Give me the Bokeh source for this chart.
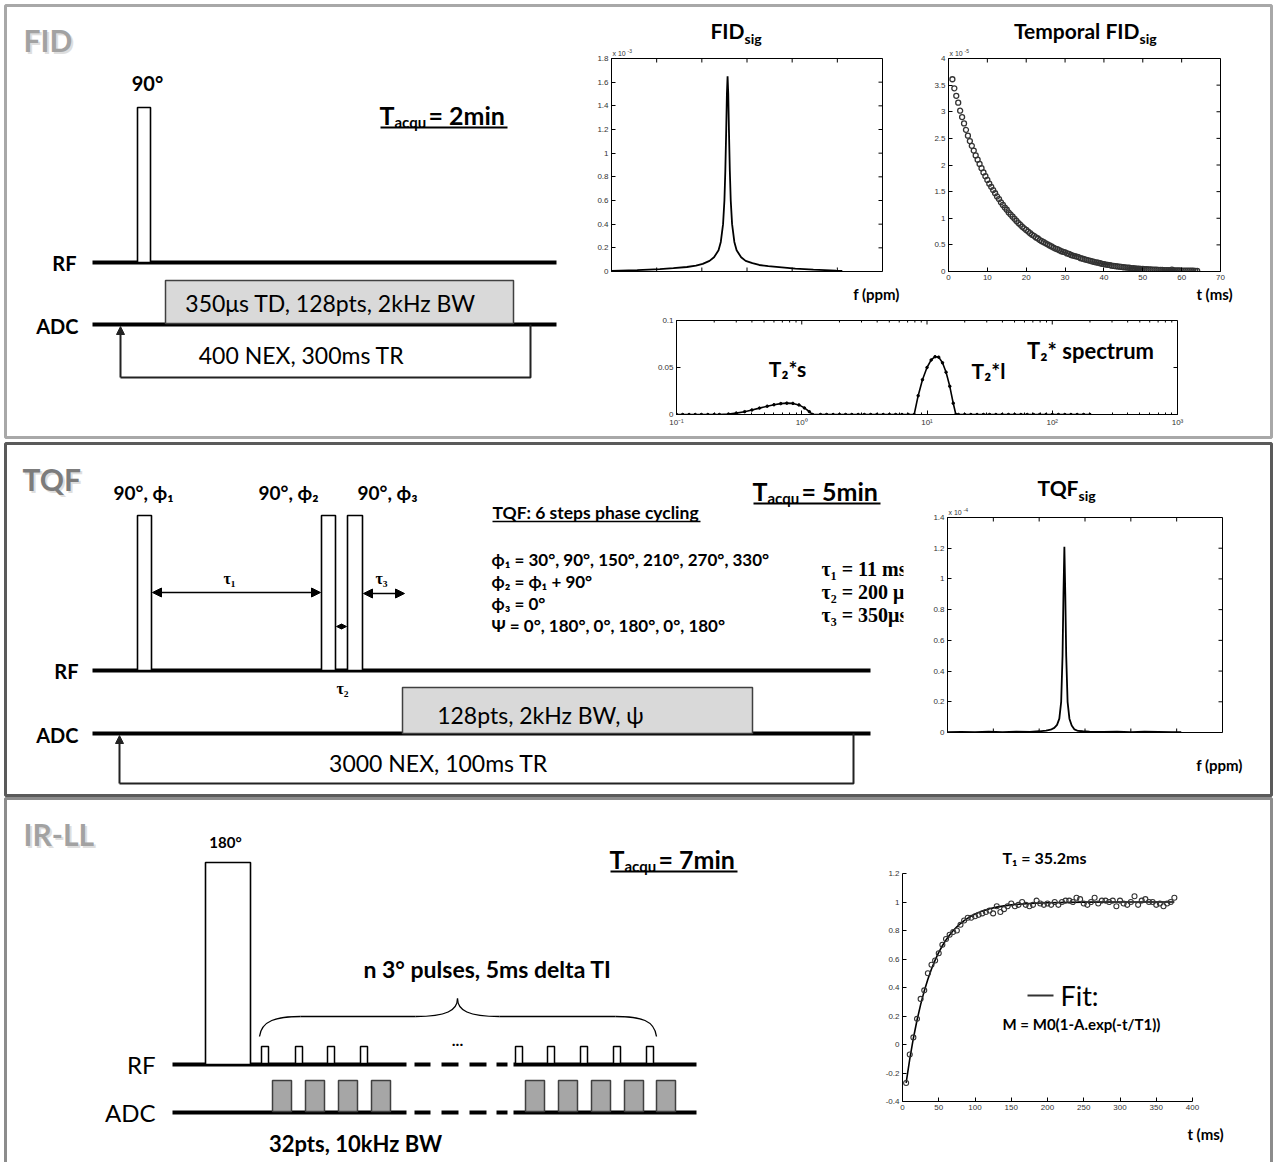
import math
from bokeh.plotting import figure
from bokeh.models import (Range1d, GridBox, FixedTicker, CustomJSTickFormatter, Arrow, NormalHead)
from bokeh.core.properties import value
from bokeh.embed import file_html
from bokeh.resources import INLINE

# ---------------------------------------------------------------- data
# FID spectrum (x in arbitrary ppm units, amplitude in 1e-3)
FID_F = [0, 5.7, 10.7, 13.7, 16.7, 18.7, 20.2, 21.7, 22.7, 23.7, 24.2, 24.7, 25.0, 25.2,
         25.4, 25.55, 25.7, 25.85, 26.0, 26.2, 26.4, 26.7, 27.2, 27.7, 28.7, 29.7, 31.2,
         32.7, 34.7, 37.7, 40.7, 44.7, 49.7, 51.1]
FID_AMP_E3 = [0.006, 0.012, 0.02, 0.028, 0.038, 0.05, 0.065, 0.09, 0.12, 0.18, 0.25, 0.4,
              0.6, 0.85, 1.2, 1.5, 1.65, 1.5, 1.2, 0.85, 0.6, 0.4, 0.25, 0.18, 0.12, 0.09,
              0.07, 0.055, 0.045, 0.035, 0.025, 0.016, 0.008, 0.006]

# temporal FID (t in ms, amplitude in 1e-5), dwell 0.5 ms
TEMP_T_MS = [1.0 + 0.5 * i for i in range(127)]
TEMP_AMP_E5 = [3.61, 3.44, 3.30, 3.17, 3.02, 2.90, 2.78, 2.66, 2.55, 2.45,
               2.36, 2.27, 2.18, 2.10, 2.02, 1.94, 1.86, 1.79, 1.72, 1.65,
               1.59, 1.53, 1.47, 1.41, 1.36, 1.30, 1.25, 1.20, 1.16, 1.11,
               1.07, 1.03, 0.99, 0.95, 0.91, 0.88, 0.84, 0.81, 0.78, 0.75,
               0.72, 0.69, 0.67, 0.64, 0.62, 0.59, 0.57, 0.55, 0.53, 0.51,
               0.49, 0.47, 0.45, 0.43, 0.42, 0.40, 0.38, 0.37, 0.36, 0.34,
               0.33, 0.31, 0.30, 0.29, 0.28, 0.27, 0.25, 0.24, 0.23, 0.22,
               0.21, 0.20, 0.19, 0.18, 0.17, 0.165, 0.155, 0.145, 0.14, 0.13,
               0.125, 0.12, 0.11, 0.105, 0.10, 0.095, 0.09, 0.085, 0.08, 0.078,
               0.072, 0.07, 0.065, 0.062, 0.058, 0.055, 0.052, 0.05, 0.047, 0.045,
               0.042, 0.04, 0.038, 0.036, 0.034, 0.033, 0.031, 0.03, 0.028, 0.027,
               0.026, 0.025, 0.023, 0.035, 0.022, 0.021, 0.02, 0.019, 0.018, 0.017,
               0.016, 0.016, 0.015, 0.014, 0.014, 0.013, 0.012]

# T2* spectrum
T2_TIME_MS = [0.1, 0.112, 0.126, 0.141, 0.158, 0.178, 0.2,
              0.22, 0.26, 0.30, 0.35, 0.40, 0.46, 0.53, 0.60, 0.68, 0.76, 0.85, 0.95, 1.05, 1.15, 1.22,
              1.41, 1.58, 1.78, 2.0, 2.24, 2.51, 2.82, 3.16, 3.55, 3.98, 4.47, 5.01, 5.62, 6.31, 7.08,
              7.9, 8.5, 9.2, 10.0, 10.8, 11.6, 12.4, 13.3, 14.2, 15.2, 16.2, 17.0,
              17.8, 20.0, 22.4, 25.1, 28.2, 31.6, 35.5, 39.8, 44.7, 50.1, 56.2, 63.1, 70.8, 79.4,
              89.1, 100, 112, 126, 141, 158, 178, 200]
T2_AMPLITUDE = [0, 0, 0, 0, 0, 0, 0,
                0, 0.0005, 0.0015, 0.003, 0.0048, 0.0068, 0.0088, 0.0104, 0.0116, 0.0121, 0.0118,
                0.0102, 0.007, 0.003, 0,
                0, 0, 0, 0, 0, 0, 0, 0, 0, 0, 0, 0, 0, 0, 0,
                0, 0.02, 0.037, 0.05, 0.058, 0.0615, 0.061, 0.055, 0.045, 0.03, 0.012, 0,
                0, 0, 0, 0, 0, 0, 0, 0, 0, 0, 0, 0, 0, 0, 0, 0, 0, 0, 0, 0, 0, 0]

# TQF spectrum (amplitude in 1e-4)
TQF_F = [0, 3, 6, 9, 12, 15, 18, 20, 21.5, 22.5, 23.3, 23.9, 24.4, 24.8, 25.1, 25.3, 25.5,
         25.7, 25.9, 26.2, 26.6, 27.1, 27.7, 28.5, 29.5, 31, 34, 37, 40, 43, 46, 49, 51]
TQF_AMP_E4 = [0.003, 0.004, 0.002, 0.006, 0.003, 0.005, 0.004, 0.008, 0.012, 0.018,
              0.03, 0.05, 0.09, 0.2, 0.5, 0.9, 1.21, 0.9, 0.5, 0.2,
              0.09, 0.045, 0.02, 0.01, 0.008, 0.006, 0.004, 0.006, 0.003, 0.005,
              0.004, 0.003, 0.002]

# IR-LL T1 recovery
T1_T_MS = list(range(5, 380, 5))
T1_M = [-0.27, -0.07, 0.05, 0.18, 0.32, 0.38, 0.50, 0.56, 0.59, 0.64,
        0.70, 0.74, 0.77, 0.79, 0.80, 0.84, 0.87, 0.89, 0.89, 0.90,
        0.91, 0.92, 0.93, 0.94, 0.92, 0.97, 0.93, 0.95, 0.97, 0.99,
        0.97, 0.98, 1.00, 0.98, 0.97, 0.98, 1.01, 0.99, 0.98, 0.99,
        0.98, 1.00, 0.98, 1.00, 1.01, 1.01, 1.00, 1.03, 1.02, 0.99,
        0.98, 1.00, 1.03, 0.99, 1.01, 1.01, 1.00, 1.01, 0.97, 1.01,
        0.99, 0.98, 1.00, 1.04, 0.98, 1.01, 1.02, 1.00, 1.00, 0.98,
        0.99, 0.97, 0.99, 1.00, 1.03]
T1_FIT_T = [5, 10, 15, 20, 25, 30, 35, 40, 45, 50, 55, 60, 65, 70, 75, 80, 85, 90, 95, 100,
            110, 120, 130, 140, 150, 175, 200, 250, 300, 375]
T1_FIT_M = [-0.270, -0.102, 0.044, 0.170, 0.280, 0.376, 0.458, 0.530, 0.592, 0.646, 0.693,
            0.734, 0.769, 0.800, 0.826, 0.849, 0.869, 0.887, 0.902, 0.915, 0.936, 0.952,
            0.964, 0.973, 0.980, 0.990, 0.995, 0.999, 1.000, 1.000]

# ---------------------------------------------------------------- diagram geometry (page px)
W, H = 1274, 1162
PANEL_LEFT = [5, 5, 5]
PANEL_RIGHT = [1271, 1271, 1271]
PANEL_TOP = [5, 443, 798]
PANEL_BOTTOM = [437, 795, 1170]
PANEL_COLORS = ["#a8a8a8", "#5a5a5a", "#8c8c8c"]
PANEL_NAMES = ["FID", "TQF", "IR-LL"]
PANEL_NAME_POS = [(23, 39), (22, 478), (23, 833)]
PANEL_NAME_COLORS = ["#a2a2a2", "#7c7c7c", "#a2a2a2"]

SEQ_LINE_X0 = [92, 92, 92, 92]
SEQ_LINE_X1 = [556, 556, 870, 870]
SEQ_LINE_Y = [262, 324, 670, 733]

PULSE_LEFT = [137, 137, 321, 347, 205]
PULSE_RIGHT = [150, 151, 335, 362, 250]
PULSE_TOP = [107, 515, 515, 515, 862]
PULSE_BOTTOM = [262, 670, 670, 670, 1064]

ADC_BOX_LEFT = [165, 402]
ADC_BOX_RIGHT = [513, 752]
ADC_BOX_TOP = [280, 687]
ADC_BOX_BOTTOM = [323, 733]

TR_X0 = [120, 119]
TR_X1 = [530, 853]
TR_TOP = [324, 733]
TR_BOTTOM = [377, 783]

IR_RF_Y, IR_ADC_Y = 1064, 1112
IR_SOLID_X0 = [172, 513]
IR_SOLID_X1 = [406, 696]
IR_DASH_X0 = [414, 441, 469, 496]
IR_DASH_X1 = [430, 458, 486, 507]
IR_SMALL_PULSE_LEFT = [261, 295, 327, 360, 515, 547, 580, 613, 646]
IR_SMALL_PULSE_W = 7
IR_SMALL_PULSE_TOP = 1046
IR_ADC_LEFT = [272, 305, 338, 371, 525, 558, 591, 624, 656]
IR_ADC_W = 19
IR_ADC_TOP = 1080

FONT = "Lato"

# ---------------------------------------------------------------- canvas
cv = figure(width=W, height=H, x_range=Range1d(0, W), y_range=Range1d(H, 0),
            x_axis_location=None, y_axis_location=None, toolbar_location=None,
            output_backend="svg", min_border=0)
cv.grid.visible = False
cv.outline_line_color = None
cv.background_fill_color = "white"


def txt(x, y, s, size, bold=True, color="black", align="center", font=FONT):
    cv.text(x=[x], y=[y], text=[s], text_font=value(font), text_font_size=f"{size}px",
            text_font_style="bold" if bold else "normal", text_color=color,
            text_align=align, text_baseline="middle")


# panel frames
cv.quad(left=PANEL_LEFT, right=PANEL_RIGHT, top=PANEL_TOP, bottom=PANEL_BOTTOM,
        fill_color=None, line_color=PANEL_COLORS, line_width=3)
for name, (x, y), col in zip(PANEL_NAMES, PANEL_NAME_POS, PANEL_NAME_COLORS):
    txt(x + 2, y + 2, name, 30, color="#dedede", align="left")
    txt(x, y, name, 30, color=col, align="left")

# sequence lines
cv.segment(x0=SEQ_LINE_X0, y0=SEQ_LINE_Y, x1=SEQ_LINE_X1, y1=SEQ_LINE_Y, line_width=4, color="black")
for yy in (IR_RF_Y, IR_ADC_Y):
    cv.segment(x0=IR_SOLID_X0, y0=[yy] * 2, x1=IR_SOLID_X1, y1=[yy] * 2, line_width=4, color="black")
    cv.segment(x0=IR_DASH_X0, y0=[yy] * 4, x1=IR_DASH_X1, y1=[yy] * 4, line_width=4, color="black")

# pulses
cv.quad(left=PULSE_LEFT, right=PULSE_RIGHT, top=PULSE_TOP, bottom=PULSE_BOTTOM,
        fill_color="white", line_color="black", line_width=1.6)
cv.quad(left=IR_SMALL_PULSE_LEFT, right=[v + IR_SMALL_PULSE_W for v in IR_SMALL_PULSE_LEFT],
        top=IR_SMALL_PULSE_TOP, bottom=IR_RF_Y - 1, fill_color="white", line_color="black", line_width=1.5)
# ADC windows
cv.quad(left=ADC_BOX_LEFT, right=ADC_BOX_RIGHT, top=ADC_BOX_TOP, bottom=ADC_BOX_BOTTOM,
        fill_color="#d9d9d9", line_color="#404040", line_width=1.5)
cv.quad(left=IR_ADC_LEFT, right=[v + IR_ADC_W for v in IR_ADC_LEFT], top=IR_ADC_TOP,
        bottom=IR_ADC_Y - 1, fill_color="#a6a6a6", line_color="#404040", line_width=1.5)
# TR loops
for x0, x1, yt, yb in zip(TR_X0, TR_X1, TR_TOP, TR_BOTTOM):
    cv.line(x=[x0, x1, x1], y=[yb, yb, yt], line_width=2, color="#222222")
    cv.add_layout(Arrow(x_start=x0, y_start=yb, x_end=x0, y_end=yt + 2, line_width=2,
                        line_color="#222222",
                        end=NormalHead(size=8, fill_color="#222222", line_color="#222222")))

# tau arrows
for xs, xe, y, hs in [(152, 320, 592, 9), (363, 404, 593, 9), (336, 346, 626, 5)]:
    cv.add_layout(Arrow(x_start=xs, y_start=y, x_end=xe, y_end=y, line_width=1.6,
                        start=NormalHead(size=hs, fill_color="black"),
                        end=NormalHead(size=hs, fill_color="black")))

# brace
cv.bezier(x0=[259, 415, 457, 615], y0=[1036, 1016, 998, 1016],
          x1=[300, 457, 499, 656], y1=[1016, 998, 1016, 1036],
          cx0=[261, 446, 457, 641], cy0=[1020, 1016, 1010, 1016],
          cx1=[276, 457, 468, 654], cy1=[1016, 1010, 1016, 1020],
          line_color="black", line_width=1.3)
cv.segment(x0=[300, 499], y0=[1016, 1016], x1=[415, 615], y1=[1016, 1016], line_color="black", line_width=1.3)


def tacq(x, yc, rest, split2):
    txt(x + 14, yc, "T", 25, align="right")
    txt(x + 14, yc + 7, "acqu", 15, align="left")
    txt(split2, yc, rest, 25, align="left")
    cv.segment(x0=[x], y0=[yc + 13], x1=[x + 127], y1=[yc + 13], line_width=2, color="black")


def subtitle(split, yc, main, sub, size, subsize):
    txt(split, yc, main, size, align="right")
    txt(split, yc + 8, sub, subsize, align="left")


# ---- panel 1 texts
txt(147, 82, "90°", 20)
tacq(380, 114, "= 2min", 428)
txt(76, 262, "RF", 20, align="right")
txt(78, 325, "ADC", 20, align="right")
txt(330, 302, "350μs TD, 128pts, 2kHz BW", 23, bold=False)
txt(301, 354, "400 NEX, 300ms TR", 23, bold=False)
subtitle(744, 30, "FID", "sig", 21, 14)
subtitle(1139, 30, "Temporal FID", "sig", 21, 14)
txt(876, 293, "f (ppm)", 15)
txt(1214, 293, "t (ms)", 15)
txt(787, 368, "T₂*s", 21)
txt(988, 370, "T₂*l", 21)
txt(1090, 350, "T₂* spectrum", 22)

# ---- panel 2 texts
txt(143, 492, "90°, ϕ₁", 19)
txt(288, 492, "90°, ϕ₂", 19)
txt(387, 492, "90°, ϕ₃", 19)
txt(229, 578, "τ₁", 16, font="Liberation Serif")
txt(381, 578, "τ₃", 16, font="Liberation Serif")
txt(342, 688, "τ₂", 16, font="Liberation Serif")
txt(78, 670, "RF", 20, align="right")
txt(78, 734, "ADC", 20, align="right")
txt(540, 714, "128pts, 2kHz BW, ψ", 23, bold=False)
txt(438, 762, "3000 NEX, 100ms TR", 23, bold=False)
tacq(753, 490, "= 5min", 801)
txt(492, 512, "TQF: 6 steps phase cycling", 17.5, align="left")
cv.segment(x0=[492], y0=[521], x1=[700], y1=[521], line_width=1.3, color="black")
for yy, s in zip([559, 581, 603, 625],
                 ["ϕ₁ = 30°, 90°, 150°, 210°, 270°, 330°", "ϕ₂ = ϕ₁ + 90°", "ϕ₃ = 0°",
                  "Ψ = 0°, 180°, 0°, 180°, 0°, 180°"]):
    txt(491, yy, s, 17, align="left")
for yy, s in zip([568, 591, 614], ["τ₁ = 11 ms", "τ₂ = 200 μs", "τ₃ = 350μs"]):
    txt(821, yy, s, 20, align="left", font="Liberation Serif")
# image cover (clips the tau text as in the original)
cv.quad(left=[903], right=[1262], top=[470], bottom=[785], fill_color="white", line_color=None)
subtitle(1078, 487, "TQF", "sig", 21, 14)
txt(1219, 764, "f (ppm)", 15)

# ---- panel 3 texts
txt(225, 841, "180°", 15)
tacq(610, 858, "= 7min", 658)
txt(487, 968, "n 3° pulses, 5ms delta TI", 23)
txt(457, 1040, "...", 16)
txt(155, 1064, "RF", 24, bold=False, align="right")
txt(155, 1112, "ADC", 24, bold=False, align="right")
txt(355, 1143, "32pts, 10kHz BW", 22)
txt(1044, 857, "T₁ = 35.2ms", 16)
txt(1205, 1133, "t (ms)", 15)
cv.segment(x0=[1027], y0=[995], x1=[1053], y1=[995], line_width=2, color="#333333")
txt(1060, 995, "Fit:", 27, bold=False, align="left")
txt(1081, 1023, "M = M0(1-A.exp(-t/T1))", 15)

# exponent labels of the insets
for x, y, e in [(612, 53, "-3"), (949, 53, "-5"), (948, 512, "-4")]:
    txt(x, y, "x 10", 7, bold=False, color="#333333", align="left", font="Liberation Sans")
    txt(x + 15, y - 3, e, 5, bold=False, color="#333333", align="left", font="Liberation Sans")

# ---------------------------------------------------------------- insets
NUMFMT = CustomJSTickFormatter(code="return String(Math.round(tick*1000)/1000)")
LOGFMT = CustomJSTickFormatter(code="""
const e = Math.round(Math.log10(tick));
const sup = {"-": "\u207b", "0": "\u2070", "1": "\u00b9", "2": "\u00b2", "3": "\u00b3"};
return "10" + String(e).split("").map(c => sup[c]).join("");
""")
BL, BR, BT, BB = 34, 8, 8, 20
TICK = 4


def style_axis(ax):
    ax.major_tick_in = TICK
    ax.major_tick_out = 0
    ax.minor_tick_in = 2
    ax.minor_tick_out = 0
    ax.axis_line_color = "black"
    ax.major_tick_line_color = "black"
    ax.minor_tick_line_color = "black"
    ax.major_label_standoff = 3
    ax.major_label_text_font = "Liberation Sans"
    ax.major_label_text_color = "#333333"
    ax.major_label_text_font_size = "8px"


def inset(fl, ft, fw, fh, x0, x1, y0, y1, xticks, yticks, xlabels=True, box=True,
          log_x=False, xminor=None):
    f = figure(width=BL + fw + BR, height=BT + fh + BB, x_range=Range1d(x0, x1),
               y_range=Range1d(y0, y1), x_axis_type="log" if log_x else "linear",
               toolbar_location=None, output_backend="svg", min_border_left=BL,
               min_border_right=BR, min_border_top=BT, min_border_bottom=BB,
               background_fill_alpha=0, border_fill_alpha=0)
    f.grid.visible = False
    f.outline_line_color = "black" if box else None
    f.xaxis.ticker = FixedTicker(ticks=xticks, minor_ticks=xminor or [])
    f.yaxis.ticker = FixedTicker(ticks=yticks, minor_ticks=[])
    f.xaxis.formatter = LOGFMT if log_x else NUMFMT
    f.yaxis.formatter = NUMFMT
    for ax in f.axis:
        style_axis(ax)
    if not xlabels:
        f.xaxis.visible = False
    if box:
        # tick marks on the mirrored (top / right) edges, length TICK px
        dy = (y1 - y0) * TICK / fh
        if log_x:
            xin = x1 / 10 ** (math.log10(x1 / x0) * TICK / fw)
        else:
            xin = x1 - (x1 - x0) * TICK / fw
        f.segment(x0=xticks, y0=[y1] * len(xticks), x1=xticks, y1=[y1 - dy] * len(xticks),
                  line_color="black", line_width=1)
        if xminor:
            f.segment(x0=xminor, y0=[y1] * len(xminor), x1=xminor,
                      y1=[y1 - dy / 2] * len(xminor), line_color="black", line_width=1)
        f.segment(x0=[x1] * len(yticks), y0=yticks, x1=[xin] * len(yticks), y1=yticks,
                  line_color="black", line_width=1)
        if not xlabels:
            f.segment(x0=xticks, y0=[y0] * len(xticks), x1=xticks, y1=[y0 + dy] * len(xticks),
                      line_color="black", line_width=1)
    return f, fl - BL, ft - BT


f1, l1, t1 = inset(611, 58, 271, 213, 0, 60, 0, 1.8,
                   [0, 10, 20, 30, 40, 50, 60], [0, 0.2, 0.4, 0.6, 0.8, 1, 1.2, 1.4, 1.6, 1.8],
                   xlabels=False)
f1.line(FID_F, FID_AMP_E3, line_color="black", line_width=1.8)

f2, l2, t2 = inset(948, 58, 272, 213, 0, 70, 0, 4,
                   [0, 10, 20, 30, 40, 50, 60, 70], [0, 0.5, 1, 1.5, 2, 2.5, 3, 3.5, 4])
f2.scatter(TEMP_T_MS, TEMP_AMP_E5, marker="circle", size=5, fill_color=None,
           line_color="#333333", line_width=1.3)

minor = [m * d for d in [0.1, 1, 10, 100] for m in range(2, 10)]
f3, l3, t3 = inset(676, 320, 501, 94, 0.1, 1000, 0, 0.1,
                   [0.1, 1, 10, 100, 1000], [0, 0.05, 0.1], log_x=True, xminor=minor)
f3.line(T2_TIME_MS, T2_AMPLITUDE, line_color="black", line_width=1.6)
f3.scatter(T2_TIME_MS, T2_AMPLITUDE, marker="circle", size=2.5, color="black")

f4, l4, t4 = inset(947, 517, 275, 215, 0, 60, 0, 1.4,
                   [0, 10, 20, 30, 40, 50, 60], [0, 0.2, 0.4, 0.6, 0.8, 1, 1.2, 1.4],
                   xlabels=False)
f4.line(TQF_F, TQF_AMP_E4, line_color="black", line_width=1.8)

f5, l5, t5 = inset(902, 873, 290, 228, 0, 400, -0.4, 1.2,
                   [0, 50, 100, 150, 200, 250, 300, 350, 400],
                   [-0.4, -0.2, 0, 0.2, 0.4, 0.6, 0.8, 1, 1.2], box=False)
f5.line(T1_FIT_T, T1_FIT_M, line_color="black", line_width=1.6)
f5.scatter(T1_T_MS, T1_M, marker="circle", size=5, fill_color=None, line_color="#333333",
           line_width=1.1)

# ---------------------------------------------------------------- overlapping grid layout
items = [(cv, 0, 0), (f1, l1, t1), (f2, l2, t2), (f3, l3, t3), (f4, l4, t4), (f5, l5, t5)]
xs = sorted({0, W} | {l for _, l, _ in items} | {l + f.width for f, l, _ in items})
ys = sorted({0, H} | {t for _, _, t in items} | {t + f.height for f, _, t in items})
children = []
for f, l, t in items:
    c0, c1 = xs.index(l), xs.index(l + f.width)
    r0, r1 = ys.index(t), ys.index(t + f.height)
    children.append((f, r0, c0, r1 - r0, c1 - c0))
grid = GridBox(children=children,
               cols=[f"{xs[i + 1] - xs[i]}px" for i in range(len(xs) - 1)],
               rows=[f"{ys[i + 1] - ys[i]}px" for i in range(len(ys) - 1)])

open("out.html", "w").write(file_html(grid, INLINE))
